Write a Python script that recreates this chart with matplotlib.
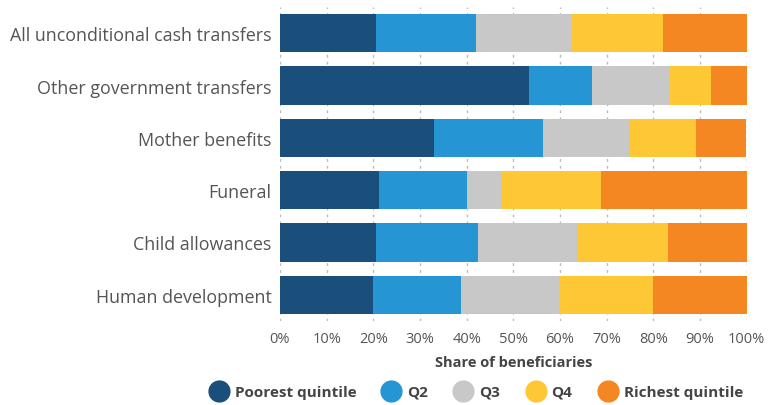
import matplotlib
matplotlib.use("Agg")
import matplotlib.pyplot as plt
from matplotlib.lines import Line2D
import numpy as np

plt.rcParams['font.family'] = ['Open Sans', 'DejaVu Sans']

categories = ["All unconditional cash transfers", "Other government transfers",
              "Mother benefits", "Funeral", "Child allowances", "Human development"]
series_names = ["Poorest quintile", "Q2", "Q3", "Q4", "Richest quintile"]
poorest = [20.5, 53.4, 33.0, 21.2, 20.5, 19.9]
q2 = [21.5, 13.5, 23.4, 18.9, 21.9, 18.9]
q3 = [20.5, 16.7, 18.4, 7.3, 21.3, 21.0]
q4 = [19.6, 8.8, 14.4, 21.4, 19.5, 20.2]
richest = [17.9, 7.6, 10.8, 31.2, 16.8, 20.0]
xtick_vals = [0, 10, 20, 30, 40, 50, 60, 70, 80, 90, 100]
xtick_labels = [f"{v}%" for v in xtick_vals]

colors = ["#1a4e7b", "#2595d4", "#c8c8c8", "#fdc735", "#f58722"]

fig = plt.figure(figsize=(7.68, 4.06), dpi=100)
ax = fig.add_axes([280/768, 1-322/406, (746.5-280)/768, 314/406])

y = np.arange(len(categories))
left = np.zeros(len(categories))
for vals, c in zip([poorest, q2, q3, q4, richest], colors):
    ax.barh(y, vals, left=left, height=0.73, color=c, zorder=2)
    left = left + np.array(vals)

ax.set_ylim(len(categories)-0.5, -0.5)
ax.set_xlim(0, 100)
ax.set_yticks(y)
ax.set_yticklabels(categories, fontsize=12.9, color="#555555")
ax.set_xticks(xtick_vals)
ax.set_xticklabels(xtick_labels, fontsize=10.5, color="#555555")
ax.tick_params(axis='y', length=0, pad=6)
ax.tick_params(axis='x', length=0, pad=7)
ax.xaxis.grid(True, linestyle=(0, (2, 3)), color="#bbbbbb", linewidth=1, zorder=0)
ax.set_axisbelow(True)
for s in ax.spines.values():
    s.set_visible(False)
ax.set_xlabel("Share of beneficiaries", fontsize=10.5, fontweight='bold', color="#444444", labelpad=7)

handles = [Line2D([0], [0], marker='o', linestyle='', markersize=15, markerfacecolor=c,
                  markeredgecolor=c) for c in colors]
leg = fig.legend(handles, series_names, loc='center', bbox_to_anchor=(475/768, 1-393/406),
                 ncol=5, frameon=False, prop={'weight': 'bold', 'size': 11},
                 handletextpad=0.3, columnspacing=1.55, handlelength=1.5)
for t in leg.get_texts():
    t.set_color("#444444")

fig.savefig("out.png", dpi=100)
